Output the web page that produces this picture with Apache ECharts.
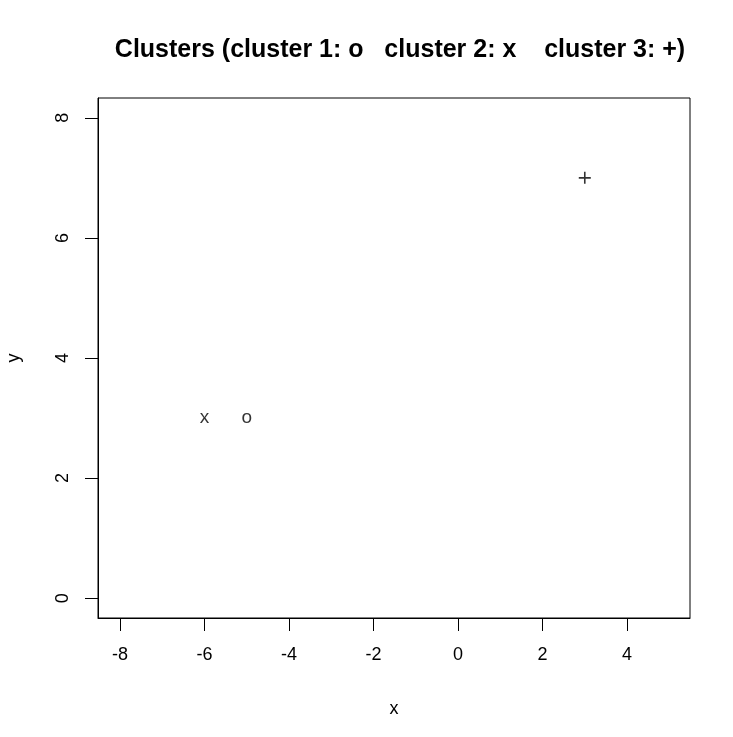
<!DOCTYPE html>
<html>
<head>
<meta charset="utf-8">
<script src="https://cdn.jsdelivr.net/npm/echarts@6/dist/echarts.min.js"></script>
<style>
  html, body { margin: 0; padding: 0; background: #fff; }
  #main { width: 733px; height: 737px; }
</style>
</head>
<body>
<div id="main"></div>
<script>
// cluster points, each with the character R plotted for it
const cluster1 = [[-5, 3]];   // o
const cluster2 = [[-6, 3]];   // x
const cluster3 = [[3, 7]];    // +
const xTicks = [-8, -6, -4, -2, 0, 2, 4];
const yTicks = [0, 2, 4, 6, 8];

const font = 'Liberation Sans, Arial, sans-serif';

// a plus sign as filled bars, since path symbols are filled not stroked
const plusPath = 'path://M5.2,0h1.6v12h-1.6zM0,5.2h12v1.6h-12z';

function textSeries(data, ch) {
    return {
        type: 'scatter',
        data: data,
        symbolSize: 1,
        itemStyle: { color: 'rgba(0,0,0,0)' },
        label: {
            show: true,
            position: 'inside',
            formatter: ch,
            color: '#000',
            fontSize: 19,
            fontFamily: font
        },
        silent: true
    };
}

let myChart = echarts.init(document.getElementById('main'));
let option = {
    animation: false,
    backgroundColor: '#fff',
    title: {
        text: 'Clusters (cluster 1: o   cluster 2: x    cluster 3: +)',
        left: 395,
        top: 33,
        textAlign: 'center',
        textStyle: { fontSize: 25, fontWeight: 'bold', color: '#000', fontFamily: font }
    },
    grid: {
        left: 98, right: 43, top: 98, bottom: 119,
        outerBoundsMode: 'none',
        containLabel: false,
        show: true, borderColor: '#000', borderWidth: 1, backgroundColor: 'transparent'
    },
    xAxis: {
        type: 'value',
        min: -8.52, max: 5.49,
        name: 'x',
        nameLocation: 'middle',
        nameGap: 82,
        nameTextStyle: { fontSize: 18, color: '#000', fontFamily: font },
        axisLine: { show: true, onZero: false, lineStyle: { color: '#000' } },
        axisTick: { show: true, length: 13, customValues: xTicks, lineStyle: { color: '#000' } },
        axisLabel: { customValues: xTicks, margin: 28, fontSize: 18, color: '#000', fontFamily: font },
        splitLine: { show: false }
    },
    yAxis: {
        type: 'value',
        min: -0.33, max: 8.33,
        name: 'y',
        nameLocation: 'middle',
        nameGap: 75,
        nameRotate: 90,
        nameTextStyle: { fontSize: 18, color: '#000', fontFamily: font },
        axisLine: { show: true, onZero: false, lineStyle: { color: '#000' } },
        axisTick: { show: true, length: 13, customValues: yTicks, lineStyle: { color: '#000' } },
        axisLabel: { customValues: yTicks, rotate: 90, margin: 26, fontSize: 18, color: '#000', fontFamily: font },
        splitLine: { show: false }
    },
    series: [
        textSeries(cluster1, 'o'),
        textSeries(cluster2, 'x'),
        {
            type: 'scatter',
            data: cluster3,
            symbol: plusPath,
            symbolSize: 12,
            itemStyle: { color: '#000' },
            silent: true
        }
    ]
};
myChart.setOption(option);
</script>
</body>
</html>
